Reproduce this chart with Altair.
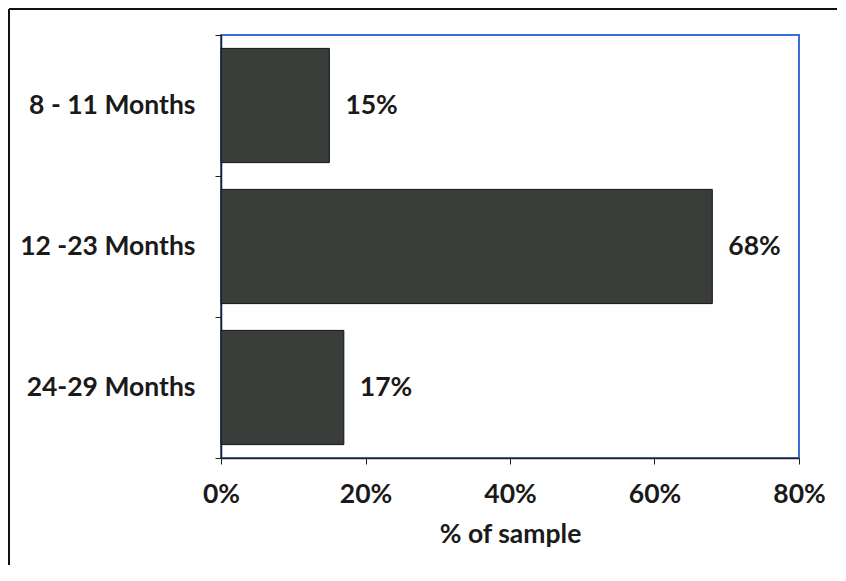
import altair as alt
import pandas as pd

categories = ["8  - 11 Months", "12 -23 Months", "24-29 Months"]
values = [0.15, 0.68, 0.17]
x_ticks = [0, 0.2, 0.4, 0.6, 0.8]

df = pd.DataFrame({"cat": categories, "val": values})

FONT = "Lato"
FS = 26.5

y_enc = alt.Y(
    "cat:N",
    sort=categories,
    title=None,
    scale=alt.Scale(paddingInner=0, paddingOuter=0),
    axis=alt.Axis(
        tickBand="extent",
        tickSize=6,
        tickColor="#222222",
        domainColor="#222222",
        domainWidth=1.5,
        labelFont=FONT,
        labelFontSize=FS,
        labelFontWeight="bold",
        labelColor="#1a1a1a",
        labelPadding=20,
        labelLimit=400,
    ),
)
x_enc = alt.X(
    "val:Q",
    scale=alt.Scale(domain=[0, 0.8]),
    title="% of sample",
    axis=alt.Axis(
        values=x_ticks,
        format=".0%",
        grid=False,
        tickSize=6,
        tickColor="#222222",
        domainColor="#222222",
        domainWidth=1.5,
        labelFlush=False,
        labelFont=FONT,
        labelFontSize=FS,
        labelFontWeight="bold",
        labelColor="#1a1a1a",
        labelPadding=17,
        titleFont=FONT,
        titleFontSize=FS,
        titleFontWeight="bold",
        titleColor="#1a1a1a",
        titlePadding=14,
    ),
)

base = alt.Chart(df)
bars = base.mark_bar(
    color="#3a3e3b", stroke="#111111", strokeWidth=1,
    height=alt.RelativeBandSize(0.81),
).encode(x=x_enc, y=y_enc)
labels = base.mark_text(
    align="left", baseline="middle", dx=16, font=FONT, fontSize=FS,
    fontWeight="bold", color="#1a1a1a"
).encode(x="val:Q", y=alt.Y("cat:N", sort=categories), text=alt.Text("val:Q", format=".0%"))

frame_left = base.mark_rule(color="#111111", strokeWidth=2).encode(
    x=alt.value(-212), y=alt.value(-26), y2=alt.value(540)
)
frame_top = base.mark_rule(color="#111111", strokeWidth=2).encode(
    x=alt.value(-212), x2=alt.value(640), y=alt.value(-26)
)

chart = alt.layer(bars, labels, frame_left, frame_top).properties(
    width=578,
    height=423,
    padding={"left": 213, "top": 27, "right": 38, "bottom": 107},
    autosize=alt.AutoSizeParams(type="none"),
    background="white",
).configure_view(stroke="#3b6fd6", strokeWidth=2)

chart.save("out.html", embed_options={"renderer": "svg", "actions": False})
